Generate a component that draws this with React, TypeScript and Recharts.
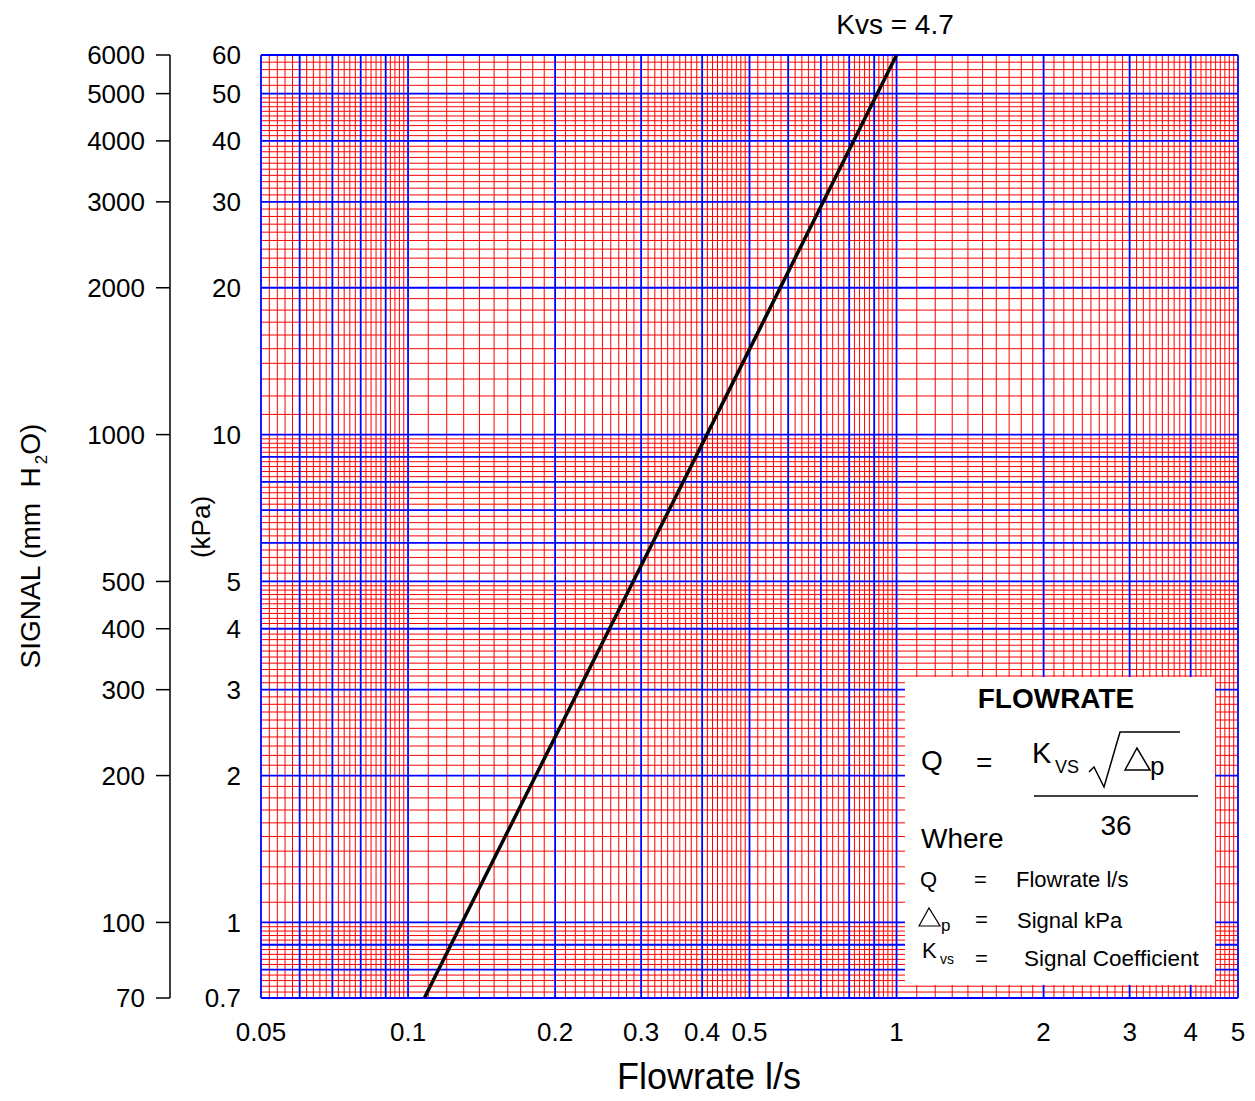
import React from 'react';
import { ComposedChart, Line, XAxis, YAxis, ReferenceLine, Label } from 'recharts';

const FONT = '"Liberation Sans", Arial, Helvetica, sans-serif';

// ---- data ----
const flowrate = [0.108, 0.129, 0.409, 1.0];
const signalKpa = [0.7, 1, 10, 60];

const flowTicks = [0.05, 0.1, 0.2, 0.3, 0.4, 0.5, 1, 2, 3, 4, 5];
const kpaTicks = [0.7, 1, 2, 3, 4, 5, 10, 20, 30, 40, 50, 60];
const mmTicks = [70, 100, 200, 300, 400, 500, 1000, 2000, 3000, 4000, 5000, 6000];

const X_DOMAIN: [number, number] = [0.05, 5];
const KPA_DOMAIN: [number, number] = [0.7, 60];
const MM_DOMAIN: [number, number] = [70, 6000];

const kvsText = 'Kvs = 4.7';

const data = flowrate.map((q, i) => ({ q, p: signalKpa[i] }));

// log-paper grid: major at each integer multiple of a decade,
// minor every 0.1 (1..5) and every 0.2 (5..10) of a decade
function logGrid(min: number, max: number) {
  const minor: number[] = [];
  const major: number[] = [];
  for (let e = -3; e <= 3; e++) {
    const d = Math.pow(10, e);
    for (let m = 10; m < 100; m += m < 50 ? 1 : 2) {
      const v = parseFloat(((m * d) / 10).toPrecision(8));
      if (v < min - 1e-12 || v > max + 1e-12) continue;
      (m % 10 === 0 ? major : minor).push(v);
    }
  }
  return { minor, major };
}

const xGrid = logGrid(X_DOMAIN[0], X_DOMAIN[1]);
const yGrid = logGrid(KPA_DOMAIN[0], KPA_DOMAIN[1]);

const RED = '#ff0000';
const BLUE = '#0000ff';

const W = 1240;
const H = 1093;

export default function App() {
  return (
    <div style={{ position: 'relative', width: W, height: H, fontFamily: FONT }}>
      <ComposedChart
        width={W}
        height={H}
        data={data}
        margin={{ top: 47, right: 10, bottom: 0, left: 0 }}
      >
        <XAxis
          dataKey="q"
          type="number"
          scale="log"
          domain={X_DOMAIN}
          ticks={flowTicks}
          interval={0}
          allowDataOverflow
          axisLine={false}
          tickLine={false}
          tickSize={0}
          tickMargin={25}
          height={103}
          tick={{ fill: '#000', fontSize: 26, fontFamily: FONT }}
          label={
            <Label
              content={() => (
                <text x={709 - 8} y={1089 - 8} textAnchor="middle" fontSize={36} fontFamily={FONT} fill="#000">
                  Flowrate l/s
                </text>
              )}
            />
          }
        />
        <YAxis
          yAxisId="kpa"
          type="number"
          scale="log"
          domain={KPA_DOMAIN}
          ticks={kpaTicks}
          interval={0}
          allowDataOverflow
          axisLine={false}
          tickLine={false}
          tickSize={0}
          tickMargin={20}
          width={91}
          tick={{ fill: '#000', fontSize: 26, fontFamily: FONT }}
          label={
            <Label
              content={() => (
                <text
                  x={0}
                  y={0}
                  transform={`translate(${210 - 8},${527 - 8}) rotate(-90)`}
                  textAnchor="middle"
                  fontSize={26}
                  fontFamily={FONT}
                  fill="#000"
                >
                  (kPa)
                </text>
              )}
            />
          }
        />
        <YAxis
          yAxisId="mm"
          type="number"
          scale="log"
          domain={MM_DOMAIN}
          ticks={mmTicks}
          interval={0}
          allowDataOverflow
          axisLine={{ stroke: '#000', strokeWidth: 1.5 }}
          tickLine={{ stroke: '#000', strokeWidth: 1.5 }}
          tickSize={14}
          tickMargin={11}
          width={162}
          tick={{ fill: '#000', fontSize: 26, fontFamily: FONT }}
          label={
            <Label
              content={() => (
                <text
                  x={0}
                  y={0}
                  transform={`translate(${40 - 8},${546 - 8}) rotate(-90)`}
                  textAnchor="middle"
                  fontSize={28}
                  fontFamily={FONT}
                  fill="#000"
                >
                  {'SIGNAL (mm\u00a0\u00a0H'}
                  <tspan fontSize={17} dx={3} dy={7}>2</tspan>
                  <tspan dy={-7}>O)</tspan>
                </text>
              )}
            />
          }
        />

        {xGrid.minor.map((v) => (
          <ReferenceLine key={'xm' + v} x={v} yAxisId="kpa" stroke={RED} strokeWidth={1} />
        ))}
        {yGrid.minor.map((v) => (
          <ReferenceLine key={'ym' + v} y={v} yAxisId="kpa" stroke={RED} strokeWidth={1} />
        ))}
        {xGrid.major.map((v) => (
          <ReferenceLine key={'xM' + v} x={v} yAxisId="kpa" stroke={BLUE} strokeWidth={1.8} />
        ))}
        {yGrid.major.map((v) => (
          <ReferenceLine key={'yM' + v} y={v} yAxisId="kpa" stroke={BLUE} strokeWidth={1.8} />
        ))}

        <Line
          yAxisId="kpa"
          dataKey="p"
          type="linear"
          stroke="#000"
          strokeWidth={3.5}
          dot={false}
          activeDot={false}
          isAnimationActive={false}
        />
      </ComposedChart>

      <svg
        width={W}
        height={H}
        style={{ position: 'absolute', left: 0, top: 0, pointerEvents: 'none' }}
        fontFamily={FONT}
      >
        <g transform="translate(-8,-8)" fill="#000">
          <text x={895} y={34} textAnchor="middle" fontSize={28}>
            {kvsText}
          </text>

          <rect x={905} y={677} width={310} height={308} fill="#fff" />
          <text x={1056} y={708} textAnchor="middle" fontSize={28} fontWeight="bold">
            FLOWRATE
          </text>
          <text x={921} y={770} fontSize={28}>Q</text>
          <text x={976} y={772} fontSize={28}>=</text>
          <text x={1032} y={763} fontSize={29}>K</text>
          <text x={1055} y={773} fontSize={18}>VS</text>
          <path
            d="M1089,772 L1094,767 L1104,787 L1120,732 L1180,732"
            fill="none"
            stroke="#000"
            strokeWidth={1.5}
          />
          <path d="M1125,770 L1137,748 L1150,770 Z" fill="none" stroke="#000" strokeWidth={1.5} />
          <text x={1150} y={775} fontSize={26}>p</text>
          <line x1={1034} y1={796} x2={1198} y2={796} stroke="#000" strokeWidth={1.5} />
          <text x={1116} y={835} textAnchor="middle" fontSize={28}>36</text>
          <text x={921} y={848} fontSize={28}>Where</text>

          <text x={920} y={887} fontSize={22}>Q</text>
          <text x={974} y={887} fontSize={22}>=</text>
          <text x={1016} y={887} fontSize={22}>Flowrate l/s</text>

          <path d="M919,926 L929,908 L940,926 Z" fill="none" stroke="#000" strokeWidth={1.2} />
          <text x={941} y={931} fontSize={17}>p</text>
          <text x={975} y={927} fontSize={22}>=</text>
          <text x={1017} y={928} fontSize={22}>Signal kPa</text>

          <text x={922} y={958} fontSize={22}>K</text>
          <text x={940} y={964} fontSize={14}>vs</text>
          <text x={975} y={966} fontSize={22}>=</text>
          <text x={1024} y={966} fontSize={22.5}>Signal Coefficient</text>
        </g>
      </svg>
    </div>
  );
}
